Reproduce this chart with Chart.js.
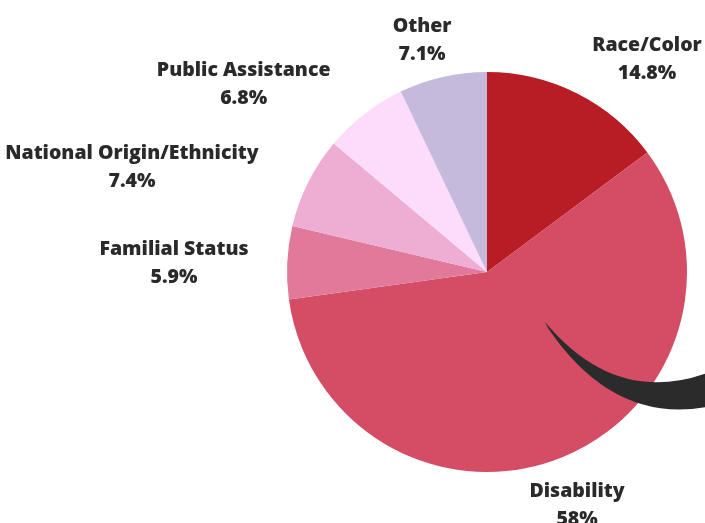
<!DOCTYPE html>
<html>
<head>
<meta charset="utf-8">
<script src="https://cdn.jsdelivr.net/npm/chart.js@4"></script>
<style>
  html, body { margin: 0; padding: 0; background: #fff; }
  #wrap { width: 705px; height: 523px; }
</style>
</head>
<body>
<div id="wrap"><canvas id="grafico" width="705" height="523"></canvas></div>
<script>
const categorias = ["Race/Color", "Disability", "Familial Status", "National Origin/Ethnicity", "Public Assistance", "Other"];
const porcentajes = [14.8, 58, 5.9, 7.4, 6.8, 7.1];
const etiquetas = ["14.8%", "58%", "5.9%", "7.4%", "6.8%", "7.1%"];
const colores = ["#b81c25", "#d44d65", "#e1799b", "#eeadd2", "#fcdcfa", "#c5badb"];

const ctx = document.getElementById("grafico");

// etiquetas fuera de cada porción
const etiquetasPlugin = {
    id: "etiquetasFuera",
    afterDraw(chart) {
        const c = chart.ctx;
        const arcs = chart.getDatasetMeta(0).data;
        c.save();
        c.font = "800 19.5px 'Open Sans'";
        c.fillStyle = "#2a2a2a";
        c.textAlign = "center";
        c.textBaseline = "middle";
        const clamp = (v, m) => Math.max(-m, Math.min(m, v));
        arcs.forEach((arc, i) => {
            const p = arc.getProps(["x", "y", "startAngle", "endAngle", "outerRadius"], true);
            const mid = (p.startAngle + p.endAngle) / 2;
            const cos = Math.cos(mid), sin = Math.sin(mid);
            const r = p.outerRadius + 20;
            const ax = p.x + cos * r;
            const ay = p.y + sin * r;
            const w = Math.max(c.measureText(categorias[i]).width, c.measureText(etiquetas[i]).width);
            let f = clamp(cos * 2.5, 1.25);
            if (sin > 0) f *= 1 - sin * sin;
            const cx = ax + (w / 2) * f;
            const cy = ay + (sin < 0 ? 18 : 32) * sin + 3 * (1 - Math.abs(sin));
            c.fillText(categorias[i], cx, cy - 14);
            c.fillText(etiquetas[i], cx, cy + 14);
        });
        c.restore();
    }
};

// flecha negra decorativa
const flechaPlugin = {
    id: "flecha",
    afterDraw(chart) {
        const arc = chart.getDatasetMeta(0).data[0];
        const x0 = arc.x, y0 = arc.y, r = arc.outerRadius;
        const P = (u, v) => [x0 + u * r, y0 + v * r];
        const c = chart.ctx;
        c.save();
        c.fillStyle = "#2b2b2b";
        c.beginPath();
        let a = P(0.29, 0.25);
        c.moveTo(a[0], a[1]);
        let k = P(0.64, 0.67), b = P(1.10, 0.505);
        c.quadraticCurveTo(k[0], k[1], b[0], b[1]);
        b = P(1.10, 0.675);
        c.lineTo(b[0], b[1]);
        k = P(0.63, 0.76); a = P(0.305, 0.28);
        c.quadraticCurveTo(k[0], k[1], a[0], a[1]);
        c.closePath();
        c.fill();
        c.restore();
    }
};

new Chart(ctx, {
    type: "pie",
    data: {
        labels: categorias,
        datasets: [{
            data: porcentajes,
            backgroundColor: colores,
            borderWidth: 0
        }]
    },
    options: {
        responsive: false,
        animation: false,
        layout: { padding: { left: 287, right: 18, top: 72, bottom: 51 } },
        plugins: {
            legend: { display: false },
            tooltip: { enabled: false }
        }
    },
    plugins: [etiquetasPlugin, flechaPlugin]
});
</script>
</body>
</html>
